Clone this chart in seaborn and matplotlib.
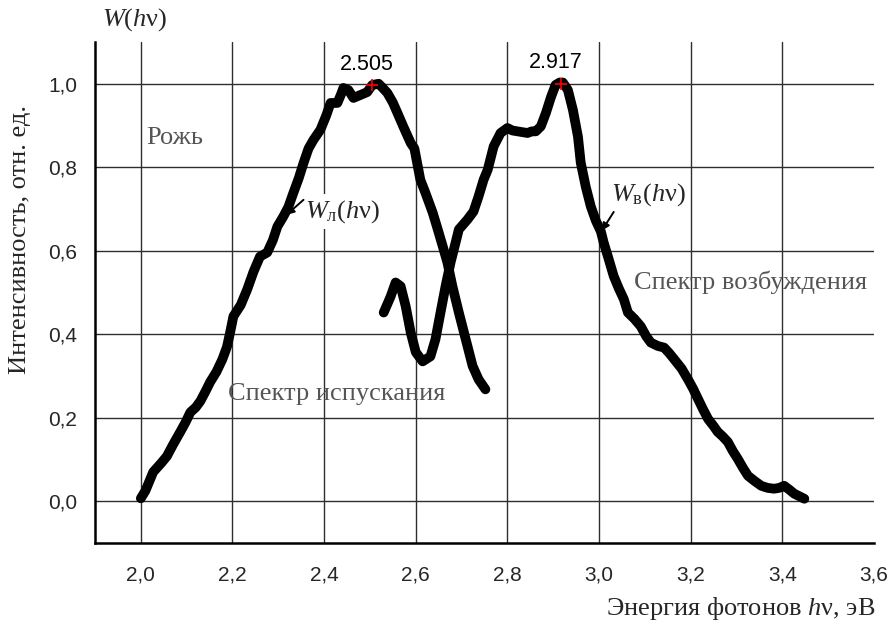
import matplotlib
matplotlib.use("Agg")
import matplotlib.pyplot as plt
import seaborn as sns
import pandas as pd
import numpy as np

# ---- data ----
em_x = [2.000, 2.010, 2.027, 2.045, 2.057, 2.070, 2.086, 2.098, 2.108, 2.120, 2.130, 2.142,
        2.151, 2.165, 2.178, 2.188, 2.195, 2.202, 2.218, 2.232, 2.246, 2.260, 2.276, 2.288,
        2.298, 2.311, 2.322, 2.333, 2.345, 2.355, 2.366, 2.377, 2.392, 2.405, 2.414, 2.429,
        2.437, 2.442, 2.453, 2.464, 2.479, 2.494, 2.505, 2.519, 2.528, 2.538, 2.550, 2.560,
        2.573, 2.589, 2.597, 2.610, 2.621, 2.637, 2.648, 2.659, 2.669, 2.680, 2.694, 2.709,
        2.724, 2.737, 2.752]
em_y = [0.007, 0.025, 0.070, 0.092, 0.108, 0.135, 0.166, 0.190, 0.213, 0.225, 0.240, 0.265,
        0.285, 0.310, 0.340, 0.370, 0.405, 0.443, 0.470, 0.507, 0.550, 0.586, 0.596, 0.625,
        0.658, 0.682, 0.705, 0.739, 0.775, 0.810, 0.845, 0.866, 0.890, 0.925, 0.954, 0.954,
        0.975, 0.990, 0.985, 0.966, 0.973, 0.980, 0.997, 1.000, 0.990, 0.978, 0.955, 0.930,
        0.897, 0.858, 0.845, 0.770, 0.739, 0.691, 0.651, 0.610, 0.572, 0.515, 0.452, 0.388,
        0.324, 0.292, 0.268]

ex_x = [2.530, 2.545, 2.556, 2.567, 2.578, 2.589, 2.600, 2.615, 2.632, 2.643, 2.654, 2.665,
        2.676, 2.687, 2.694, 2.713, 2.726, 2.737, 2.748, 2.757, 2.770, 2.785, 2.800, 2.811,
        2.822, 2.833, 2.844, 2.853, 2.862, 2.873, 2.884, 2.895, 2.905, 2.914, 2.921, 2.932,
        2.943, 2.954, 2.960, 2.971, 2.982, 2.993, 3.004, 3.010, 3.021, 3.032, 3.043, 3.054,
        3.063, 3.077, 3.091, 3.103, 3.113, 3.128, 3.142, 3.153, 3.164, 3.180, 3.194, 3.205,
        3.216, 3.227, 3.238, 3.250, 3.259, 3.270, 3.281, 3.292, 3.303, 3.314, 3.325, 3.340,
        3.354, 3.368, 3.382, 3.393, 3.404, 3.415, 3.426, 3.437, 3.448]
ex_y = [0.452, 0.490, 0.524, 0.515, 0.467, 0.404, 0.357, 0.335, 0.347, 0.388, 0.452, 0.515,
        0.572, 0.620, 0.651, 0.675, 0.694, 0.730, 0.770, 0.794, 0.850, 0.882, 0.894, 0.888,
        0.886, 0.884, 0.882, 0.886, 0.886, 0.898, 0.930, 0.968, 0.997, 1.003, 1.003, 0.985,
        0.937, 0.873, 0.811, 0.753, 0.706, 0.672, 0.646, 0.620, 0.580, 0.539, 0.510, 0.484,
        0.452, 0.437, 0.419, 0.395, 0.380, 0.372, 0.368, 0.355, 0.340, 0.318, 0.292, 0.270,
        0.245, 0.220, 0.197, 0.180, 0.166, 0.155, 0.142, 0.120, 0.101, 0.080, 0.061, 0.048,
        0.037, 0.032, 0.030, 0.032, 0.037, 0.028, 0.018, 0.012, 0.006]

peak_x = [2.505, 2.917]
peak_y = [0.997, 1.000]
peak_labels = ["2.505", "2.917"]

x_ticks = [2.0, 2.2, 2.4, 2.6, 2.8, 3.0, 3.2, 3.4, 3.6]
y_ticks = [0.0, 0.2, 0.4, 0.6, 0.8, 1.0]

# ---- style ----
sns.set_style("white")
plt.rcParams['font.family'] = ['Liberation Sans', 'DejaVu Sans']
plt.rcParams['mathtext.fontset'] = 'custom'
plt.rcParams['mathtext.rm'] = 'Liberation Serif'
plt.rcParams['mathtext.it'] = 'Liberation Serif:italic'
plt.rcParams['mathtext.bf'] = 'Liberation Serif:bold'

serif = ['Liberation Serif', 'DejaVu Serif']

fig = plt.figure(figsize=(8.88, 6.26), dpi=100)
ax = fig.add_axes([95/888, 1-543/626, (874-95)/888, (543-42)/626])

df_em = pd.DataFrame({"x": em_x, "y": em_y})
df_ex = pd.DataFrame({"x": ex_x, "y": ex_y})

# grid lines (drawn from tick lists)
for xv in x_ticks[:-1]:
    ax.axvline(xv, color='#2e2e2e', lw=1.0, zorder=0)
for yv in y_ticks:
    ax.axhline(yv, color='#2e2e2e', lw=1.0, zorder=0)

for d in (df_em, df_ex):
    sns.lineplot(data=d, x="x", y="y", sort=False, estimator=None, ax=ax,
                 color='black', lw=7.0, solid_capstyle='round', solid_joinstyle='round',
                 zorder=3)

ax.scatter(peak_x, peak_y, marker='+', color='red', s=70, lw=1.2, zorder=5)
for px, py, lab in zip(peak_x, peak_y, peak_labels):
    ax.text(px - 0.012, py + 0.025, lab, ha='center', va='bottom', fontsize=15.5,
            color='black', zorder=6)

ax.set_xlim(1.9, 3.6)
ax.set_ylim(-0.1, 1.1)
ax.set_xticks(x_ticks)
ax.set_yticks(y_ticks)
ax.set_xticks(np.arange(1.9, 3.61, 0.1), minor=True)
ax.set_yticks(np.arange(-0.1, 1.11, 0.1), minor=True)
ax.set_xticklabels([f"{v:.1f}".replace('.', ',') for v in x_ticks])
ax.set_yticklabels([f"{v:.1f}".replace('.', ',') for v in y_ticks])
ax.tick_params(axis='both', which='major', direction='out', length=7, width=1.6,
               labelsize=15, color='black', pad=6)
ax.tick_params(axis='both', which='minor', direction='out', length=4, width=1.4,
               color='black')
ax.tick_params(axis='x', which='major', pad=9)
ax.set_xlabel("")
ax.set_ylabel("")

for s in ('top', 'right'):
    ax.spines[s].set_visible(False)
for s in ('left', 'bottom'):
    ax.spines[s].set_linewidth(1.8)
    ax.spines[s].set_color('black')

# annotations
ax.text(2.011, 0.871, "Рожь", family=serif, fontsize=19, color='#555555',
        ha='left', va='center')
ax.text(3.076, 0.524, "Спектр возбуждения", family=serif, fontsize=19, color='#555555',
        ha='left', va='center')
ax.text(2.191, 0.256, "Спектр испускания", family=serif, fontsize=19, color='#555555',
        ha='left', va='center')

ax.text(2.359, 0.694, r"$W_{\mathrm{л}}(h\mathrm{ν})$", fontsize=19, ha='left', va='center',
        zorder=6, bbox=dict(boxstyle='square,pad=0.15', fc='white', ec='none'))
ax.annotate("", xy=(2.318, 0.686), xytext=(2.355, 0.722), zorder=7,
            arrowprops=dict(arrowstyle='-|>', color='black', lw=1.4, mutation_scale=11,
                            shrinkA=0, shrinkB=0))
ax.text(3.026, 0.734, r"$W_{\mathrm{в}}(h\mathrm{ν})$", fontsize=19, ha='left', va='center',
        zorder=6, bbox=dict(boxstyle='square,pad=0.15', fc='white', ec='none'))
ax.annotate("", xy=(3.006, 0.648), xytext=(3.032, 0.693), zorder=7,
            arrowprops=dict(arrowstyle='-|>', color='black', lw=1.4, mutation_scale=11,
                            shrinkA=0, shrinkB=0))

fig.text(135/888, 1-20/626, r"$W(h\mathrm{ν})$", fontsize=19, ha='center', va='center')
fig.text(20/888, 1-240/626, "Интенсивность, отн. ед.", family=serif, fontsize=19,
         rotation=90, ha='center', va='center')
fig.text(875/888, 1-609/626, r"Энергия фотонов $h\mathrm{ν}$, эВ", family=serif,
         fontsize=19, ha='right', va='center')

fig.savefig("out.png", dpi=100)
